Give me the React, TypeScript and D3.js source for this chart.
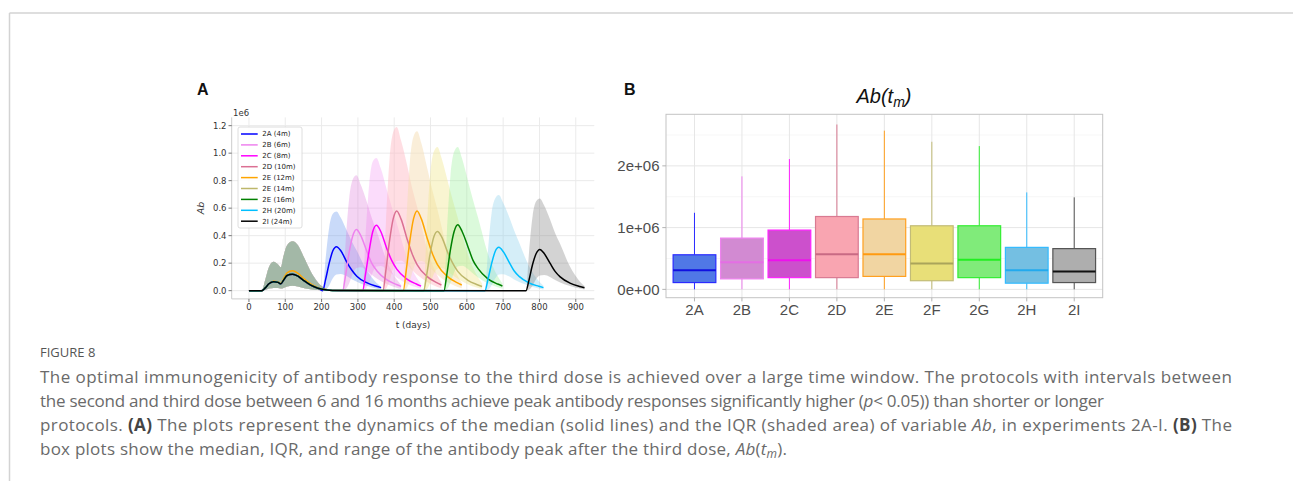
import React from 'react'
import * as d3 from 'd3'

// ---------- panel A: median and IQR of Ab over time (values in 1e6) ----------
const protocols = ['2A (4m)', '2B (6m)', '2C (8m)', '2D (10m)', '2E (12m)', '2E (14m)', '2E (16m)', '2H (20m)', '2I (24m)']
const lineColors = ['#0000ff', '#ee82ee', '#ff00ff', '#db7093', '#ffa500', '#bdb76b', '#008000', '#00bfff', '#000000']
const bandColors = ['#6495ed', '#da70d6', '#ee60ee', '#ffb6c1', '#f5deb3', '#f0e68c', '#90ee90', '#87ceeb', '#808080']
const bandAlpha = [0.35, 0.3, 0.22, 0.45, 0.5, 0.4, 0.32, 0.35, 0.35]

// first two doses, shared by every protocol
const earlyDays = [0, 35, 45, 55, 68, 80, 88, 95, 105, 120, 135, 150, 170, 190, 210, 230]
const earlyMedian = [0, 0, 0.02, 0.05, 0.065, 0.06, 0.05, 0.075, 0.11, 0.12, 0.105, 0.075, 0.04, 0.018, 0.007, 0.002]
const earlyMedianOrange = [0, 0, 0.02, 0.05, 0.068, 0.063, 0.053, 0.085, 0.13, 0.145, 0.125, 0.09, 0.05, 0.022, 0.008, 0.002]
const earlyHigh = [0, 0, 0.08, 0.17, 0.21, 0.19, 0.17, 0.25, 0.33, 0.36, 0.33, 0.25, 0.14, 0.06, 0.018, 0.004]
const earlyLow = [0, 0, 0.005, 0.015, 0.02, 0.02, 0.015, 0.02, 0.03, 0.035, 0.03, 0.02, 0.01, 0.004, 0.001, 0]

// third dose: start day and response read at days after the dose
const thirdDose = [203, 258, 313, 369, 425, 481, 537, 650, 763]
const respDays = [0, 8, 18, 28, 38, 50, 66, 80, 94, 121, 148, 161]

const med2A = [0, 0.08, 0.2, 0.29, 0.32, 0.29, 0.21, 0.15, 0.105, 0.058, 0.032, 0.022]
const hi2A = [0, 0.23, 0.46, 0.56, 0.575, 0.53, 0.44, 0.36, 0.29, 0.15, 0.058, 0.029]
const lo2A = [0, 0.006, 0.038, 0.09, 0.118, 0.122, 0.106, 0.083, 0.064, 0.035, 0.016, 0.01]

const med2B = [0, 0.11, 0.28, 0.4, 0.445, 0.4, 0.29, 0.2, 0.145, 0.08, 0.045, 0.031]
const hi2B = [0, 0.34, 0.67, 0.81, 0.84, 0.77, 0.65, 0.53, 0.43, 0.22, 0.084, 0.042]
const lo2B = [0, 0.009, 0.053, 0.125, 0.165, 0.17, 0.147, 0.116, 0.089, 0.049, 0.022, 0.013]

const med2C = [0, 0.12, 0.29, 0.43, 0.475, 0.43, 0.31, 0.22, 0.157, 0.086, 0.048, 0.033]
const hi2C = [0, 0.39, 0.77, 0.94, 0.965, 0.89, 0.74, 0.61, 0.49, 0.25, 0.097, 0.048]
const lo2C = [0, 0.01, 0.057, 0.133, 0.176, 0.18, 0.157, 0.124, 0.095, 0.052, 0.024, 0.014]

const med2D = [0, 0.145, 0.36, 0.52, 0.58, 0.52, 0.38, 0.27, 0.19, 0.104, 0.058, 0.041]
const hi2D = [0, 0.48, 0.95, 1.15, 1.19, 1.09, 0.92, 0.75, 0.61, 0.31, 0.12, 0.06]
const lo2D = [0, 0.012, 0.07, 0.162, 0.215, 0.22, 0.19, 0.15, 0.116, 0.064, 0.029, 0.017]

const med2E12 = [0, 0.145, 0.36, 0.52, 0.58, 0.52, 0.38, 0.27, 0.19, 0.104, 0.058, 0.041]
const hi2E12 = [0, 0.46, 0.93, 1.12, 1.16, 1.07, 0.89, 0.73, 0.59, 0.3, 0.116, 0.058]
const lo2E12 = [0, 0.012, 0.07, 0.16, 0.21, 0.215, 0.19, 0.15, 0.115, 0.063, 0.029, 0.017]

const med2E14 = [0, 0.108, 0.27, 0.39, 0.43, 0.39, 0.28, 0.2, 0.14, 0.077, 0.043, 0.03]
const hi2E14 = [0, 0.42, 0.84, 1.01, 1.045, 0.96, 0.8, 0.66, 0.53, 0.27, 0.105, 0.052]
const lo2E14 = [0, 0.009, 0.052, 0.12, 0.16, 0.165, 0.142, 0.112, 0.086, 0.047, 0.022, 0.013]

const med2E16 = [0, 0.12, 0.3, 0.43, 0.48, 0.43, 0.32, 0.22, 0.16, 0.086, 0.048, 0.034]
const hi2E16 = [0, 0.42, 0.84, 1.01, 1.045, 0.96, 0.8, 0.66, 0.53, 0.27, 0.105, 0.052]
const lo2E16 = [0, 0.01, 0.058, 0.134, 0.178, 0.182, 0.158, 0.125, 0.096, 0.053, 0.024, 0.014]

const med2H = [0, 0.08, 0.195, 0.285, 0.315, 0.285, 0.21, 0.145, 0.104, 0.057, 0.032, 0.022]
const hi2H = [0, 0.28, 0.56, 0.67, 0.695, 0.64, 0.54, 0.44, 0.35, 0.18, 0.07, 0.035]
const lo2H = [0, 0.006, 0.038, 0.088, 0.117, 0.12, 0.104, 0.082, 0.063, 0.035, 0.016, 0.009]

const med2I = [0, 0.075, 0.19, 0.27, 0.3, 0.27, 0.2, 0.14, 0.1, 0.055, 0.03, 0.021]
const hi2I = [0, 0.27, 0.54, 0.65, 0.67, 0.62, 0.52, 0.42, 0.34, 0.175, 0.067, 0.034]
const lo2I = [0, 0.006, 0.036, 0.084, 0.11, 0.114, 0.1, 0.078, 0.06, 0.033, 0.015, 0.009]

const medians = [med2A, med2B, med2C, med2D, med2E12, med2E14, med2E16, med2H, med2I]
const highs = [hi2A, hi2B, hi2C, hi2D, hi2E12, hi2E14, hi2E16, hi2H, hi2I]
const lows = [lo2A, lo2B, lo2C, lo2D, lo2E12, lo2E14, lo2E16, lo2H, lo2I]

const xTicksA = [0, 100, 200, 300, 400, 500, 600, 700, 800, 900]
const yTicksA = [0, 0.2, 0.4, 0.6, 0.8, 1.0, 1.2]

// ---------- panel B: box plots of Ab(t_m) ----------
const boxCats = ['2A', '2B', '2C', '2D', '2E', '2F', '2G', '2H', '2I']
const boxMin = [0, 0, 0, 0, 0, 0, 0, 0, 0]
const boxQ1 = [0.11e6, 0.17e6, 0.19e6, 0.19e6, 0.21e6, 0.14e6, 0.19e6, 0.1e6, 0.11e6]
const boxMed = [0.31e6, 0.44e6, 0.47e6, 0.57e6, 0.57e6, 0.42e6, 0.48e6, 0.31e6, 0.29e6]
const boxQ3 = [0.56e6, 0.83e6, 0.96e6, 1.18e6, 1.14e6, 1.03e6, 1.03e6, 0.68e6, 0.66e6]
const boxMax = [1.24e6, 1.83e6, 2.11e6, 2.67e6, 2.57e6, 2.39e6, 2.32e6, 1.57e6, 1.49e6]
const boxFill = ['#5078e6', '#d28ad2', '#cc50cc', '#f9a5b1', '#f1d5a2', '#e8df78', '#80eb7a', '#74bfe2', '#aeaeae']
const boxLine = ['#2a2aff', '#ee82ee', '#ff22ff', '#d97a92', '#ffa020', '#c2bc78', '#33ee33', '#33bbff', '#555555']
const boxMedLine = ['#1010e0', '#e46ee4', '#ee10ee', '#c86a84', '#ff9a10', '#aaa45a', '#22ee22', '#22aaee', '#111111']
const yTicksB = [0, 1e6, 2e6]
const yMinorB = [0.5e6, 1.5e6, 2.5e6]
const yLabelsB = ['0e+00', '1e+06', '2e+06']

export default function App() {
  // panel A scales
  const xA = d3.scaleLinear([-47.5, 951], [231.7, 594.3])
  const yA = d3.scaleLinear([-0.06, 1.26], [298.9, 117.4])

  const series = protocols.map((name, i) => {
    const start = thirdDose[i]
    const em = i === 4 ? earlyMedianOrange : earlyMedian
    const pts: { t: number; m: number; lo: number; hi: number }[] = []
    earlyDays.forEach((t, j) => {
      if (t < start) pts.push({ t, m: em[j], lo: earlyLow[j], hi: earlyHigh[j] })
    })
    respDays.forEach((d, j) => {
      pts.push({ t: start + d, m: medians[i][j], lo: lows[i][j], hi: highs[i][j] })
    })
    return { name, pts }
  })

  const line = d3.line<any>().x(d => xA(d.t)).y(d => yA(d.m)).curve(d3.curveMonotoneX)
  const band = d3.area<any>().x(d => xA(d.t)).y0(d => yA(d.lo)).y1(d => yA(d.hi)).curve(d3.curveMonotoneX)

  // panel B scales
  const xB = d3.scalePoint(boxCats, [666, 1102.7]).padding(0.6)
  const yB = d3.scaleLinear([-0.135e6, 2.835e6], [297.7, 114.3])
  const bw = xB.step() * 0.9

  const tickFont = 'DejaVu Sans, sans-serif'
  const ggFont = 'Liberation Sans, Arial, sans-serif'
  const capFont = 'Open Sans, sans-serif'

  return (
    <svg width={1293} height={481} style={{ position: 'absolute', left: 0, top: 0, background: '#fff' }}>
      {/* page frame */}
      <line x1={9.5} x2={1293} y1={13} y2={13} stroke='#d3d3d3' strokeWidth={1.5} />
      <line x1={9.5} x2={9.5} y1={13} y2={481} stroke='#d3d3d3' strokeWidth={1.5} />

      {/* ---------------- panel A ---------------- */}
      <text x={197} y={94.5} fontFamily={ggFont} fontWeight='bold' fontSize={16} fill='#111'>A</text>
      <g>
        {xTicksA.map(t => (
          <line key={'gx' + t} x1={xA(t)} x2={xA(t)} y1={117.4} y2={298.9} stroke='#ebebeb' strokeWidth={1} />
        ))}
        {yTicksA.map(v => (
          <line key={'gy' + v} x1={231.7} x2={594.3} y1={yA(v)} y2={yA(v)} stroke='#ebebeb' strokeWidth={1} />
        ))}
      </g>
      <g>
        {series.map((s, i) => (
          <path key={'b' + i} d={band(s.pts) ?? ''} fill={bandColors[i]} fillOpacity={bandAlpha[i]} stroke='none' />
        ))}
        {series.map((s, i) => (
          <path key={'l' + i} d={line(s.pts) ?? ''} fill='none' stroke={lineColors[i]} strokeWidth={1.5} />
        ))}
      </g>
      <line x1={231.7} x2={231.7} y1={117.4} y2={298.9} stroke='#cccccc' strokeWidth={1} />
      <line x1={231.7} x2={594.3} y1={298.9} y2={298.9} stroke='#cccccc' strokeWidth={1} />
      {yTicksA.map(v => (
        <g key={'ty' + v}>
          <line x1={228.5} x2={231.7} y1={yA(v)} y2={yA(v)} stroke='#555' strokeWidth={0.8} />
          <text x={226.5} y={yA(v) + 3} textAnchor='end' fontFamily={tickFont} fontSize={8.5} fill='#333'>{v.toFixed(1)}</text>
        </g>
      ))}
      {xTicksA.map(t => (
        <g key={'tx' + t}>
          <line x1={xA(t)} x2={xA(t)} y1={298.9} y2={302} stroke='#555' strokeWidth={0.8} />
          <text x={xA(t)} y={309.5} textAnchor='middle' fontFamily={tickFont} fontSize={8.5} fill='#333'>{t}</text>
        </g>
      ))}
      <text x={233} y={116} fontFamily={tickFont} fontSize={8.5} fill='#333'>1e6</text>
      <text x={413} y={328} textAnchor='middle' fontFamily={tickFont} fontSize={9} fill='#333'>t (days)</text>
      <text transform='translate(204,208) rotate(-90)' textAnchor='middle' fontFamily={tickFont} fontStyle='italic' fontSize={9.5} fill='#333'>Ab</text>

      {/* legend */}
      <rect x={238} y={127} width={64} height={101} rx={2} fill='#fff' fillOpacity={0.85} stroke='#d6d6d6' strokeWidth={0.8} />
      {protocols.map((p, i) => (
        <g key={'lg' + i}>
          <line x1={241} x2={257.7} y1={134 + i * 10.9} y2={134 + i * 10.9} stroke={lineColors[i]} strokeWidth={1.5} />
          <text x={262.3} y={136.4 + i * 10.9} fontFamily={tickFont} fontSize={7} fill='#222'>{p}</text>
        </g>
      ))}

      {/* ---------------- panel B ---------------- */}
      <text x={624} y={94.5} fontFamily={ggFont} fontWeight='bold' fontSize={16} fill='#111'>B</text>
      <text x={884} y={103} textAnchor='middle' fontFamily={ggFont} fontStyle='italic' fontSize={20} fill='#111'>
        Ab(t<tspan fontSize={14} dy={4}>m</tspan><tspan dy={-4}>)</tspan>
      </text>
      <g>
        {yMinorB.map(v => (
          <line key={'mn' + v} x1={666} x2={1102.7} y1={yB(v)} y2={yB(v)} stroke='#f2f2f2' strokeWidth={0.7} />
        ))}
        {yTicksB.map(v => (
          <line key={'mj' + v} x1={666} x2={1102.7} y1={yB(v)} y2={yB(v)} stroke='#e6e6e6' strokeWidth={1} />
        ))}
        {boxCats.map(c => (
          <line key={'vx' + c} x1={xB(c)!} x2={xB(c)!} y1={114.3} y2={297.7} stroke='#e6e6e6' strokeWidth={1} />
        ))}
      </g>
      {boxCats.map((c, i) => {
        const cx = xB(c)!
        return (
          <g key={'box' + c}>
            <line x1={cx} x2={cx} y1={yB(boxQ3[i])} y2={yB(boxMax[i])} stroke={boxLine[i]} strokeWidth={1} />
            <line x1={cx} x2={cx} y1={yB(boxQ1[i])} y2={yB(boxMin[i])} stroke={boxLine[i]} strokeWidth={1} />
            <rect x={cx - bw / 2} y={yB(boxQ3[i])} width={bw} height={yB(boxQ1[i]) - yB(boxQ3[i])}
              fill={boxFill[i]} stroke={boxLine[i]} strokeWidth={1.2} />
            <line x1={cx - bw / 2} x2={cx + bw / 2} y1={yB(boxMed[i])} y2={yB(boxMed[i])} stroke={boxMedLine[i]} strokeWidth={2} />
          </g>
        )
      })}
      <rect x={666} y={114.3} width={436.7} height={183.4} fill='none' stroke='#c4c4c4' strokeWidth={1} />
      {yTicksB.map((v, i) => (
        <g key={'tb' + v}>
          <line x1={662.3} x2={666} y1={yB(v)} y2={yB(v)} stroke='#b3b3b3' strokeWidth={1} />
          <text x={659.5} y={yB(v) + 5.3} textAnchor='end' fontFamily={ggFont} fontSize={15} fill='#4d4d4d'>{yLabelsB[i]}</text>
        </g>
      ))}
      {boxCats.map(c => (
        <g key={'xb' + c}>
          <line x1={xB(c)!} x2={xB(c)!} y1={297.7} y2={301.4} stroke='#b3b3b3' strokeWidth={1} />
          <text x={xB(c)!} y={315} textAnchor='middle' fontFamily={ggFont} fontSize={15} fill='#4d4d4d'>{c}</text>
        </g>
      ))}

      {/* ---------------- caption ---------------- */}
      <text x={40} y={357} fontFamily={capFont} fontSize={13} fill='#555'>FIGURE 8</text>
      <text x={40} y={383} fontFamily={capFont} fontSize={17} fill='#6a6a6a' textLength={1192} lengthAdjust='spacing'>
        The optimal immunogenicity of antibody response to the third dose is achieved over a large time window. The protocols with intervals between
      </text>
      <text x={40} y={407} fontFamily={capFont} fontSize={17} fill='#6a6a6a' textLength={1064} lengthAdjust='spacing'>
        the second and third dose between 6 and 16 months achieve peak antibody responses significantly higher (<tspan fontStyle='italic'>p</tspan>{'< 0.05)) than shorter or longer'}
      </text>
      <text x={40} y={431} fontFamily={capFont} fontSize={17} fill='#6a6a6a' textLength={1192} lengthAdjust='spacing'>
        protocols. <tspan fontWeight='bold' fill='#444'>(A)</tspan> The plots represent the dynamics of the median (solid lines) and the IQR (shaded area) of variable <tspan fontStyle='italic'>Ab</tspan>, in experiments 2A-I. <tspan fontWeight='bold' fill='#444'>(B)</tspan> The
      </text>
      <text x={40} y={455} fontFamily={capFont} fontSize={17} fill='#6a6a6a' textLength={747} lengthAdjust='spacing'>
        box plots show the median, IQR, and range of the antibody peak after the third dose, <tspan fontStyle='italic'>Ab</tspan>(<tspan fontStyle='italic'>t</tspan><tspan fontStyle='italic' fontSize={12} dy={3}>m</tspan><tspan dy={-3}>).</tspan>
      </text>
    </svg>
  )
}
